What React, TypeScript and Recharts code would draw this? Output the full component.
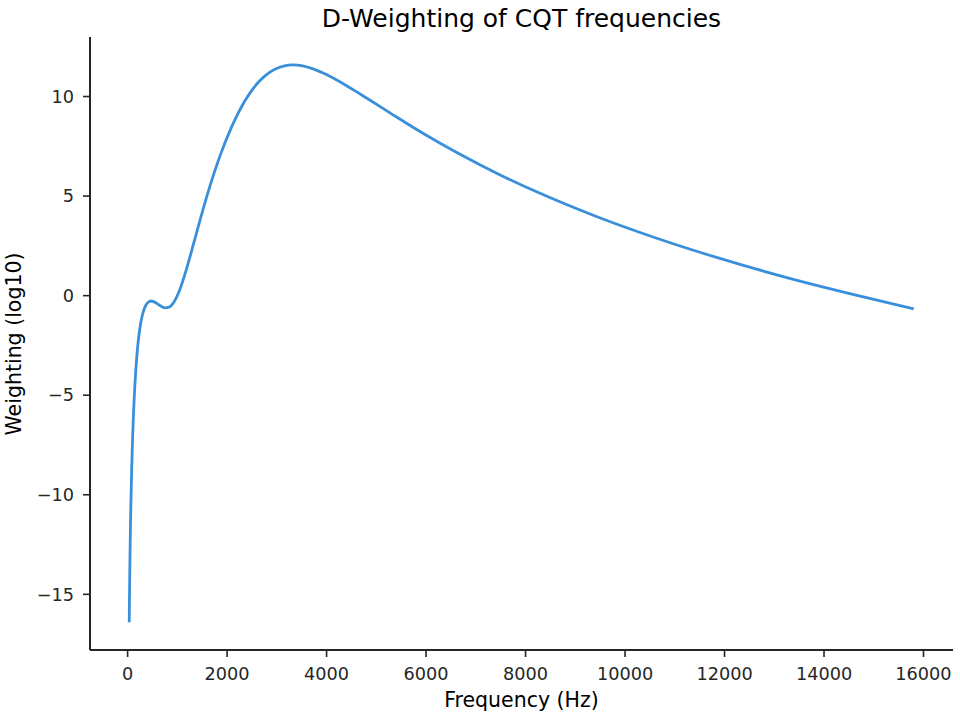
import React from 'react';
import { LineChart, Line, XAxis, YAxis } from 'recharts';

// CQT centre frequencies (Hz), whole-tone steps from C1
const freqs = [
  32.70, 36.71, 41.20, 46.25, 51.91, 58.27, 65.41, 73.42, 82.41, 92.50,
  103.83, 116.54, 130.81, 146.83, 164.81, 185.00, 207.65, 233.08, 261.63, 293.66,
  329.63, 369.99, 415.30, 466.16, 523.25, 587.33, 659.26, 739.99, 830.61, 932.33,
  1046.50, 1174.66, 1318.51, 1479.98, 1661.22, 1864.66, 2093.00, 2349.32, 2637.02, 2793.83,
  2959.96, 3135.96, 3322.44, 3520.00, 3729.31, 3951.07, 4186.01, 4698.64, 5274.04, 5919.91,
  6644.88, 7458.62, 8372.02, 9397.27, 10548.08, 11839.82, 13289.75, 14917.24, 15804.27,
];

// D-weighting
const weights = [
  -16.40, -15.41, -14.43, -13.45, -12.48, -11.52, -10.57, -9.63, -8.70, -7.80,
  -6.92, -6.07, -5.25, -4.47, -3.74, -3.06, -2.44, -1.89, -1.41, -1.01,
  -0.70, -0.47, -0.33, -0.27, -0.30, -0.39, -0.51, -0.61, -0.58, -0.32,
  0.28, 1.26, 2.54, 4.01, 5.55, 7.07, 8.49, 9.75, 10.74, 11.10,
  11.37, 11.53, 11.59, 11.54, 11.39, 11.16, 10.86, 10.09, 9.18, 8.18,
  7.15, 6.10, 5.05, 4.00, 2.96, 1.92, 0.88, -0.14, -0.66,
];

const xTicks = [0, 2000, 4000, 6000, 8000, 10000, 12000, 14000, 16000];
const yTicks = [-15, -10, -5, 0, 5, 10];

const data = freqs.map((f, i) => ({ freq: f, weight: weights[i] }));

const INK = '#262626';
const FONT = 'DejaVu Sans';

const fmt = (v: number) => (v < 0 ? '\u2212' + Math.abs(v) : String(v));

export default function App() {
  return (
    <div style={{ position: 'absolute', left: 0, top: 0, width: 960, height: 720, background: '#ffffff' }}>
      <LineChart width={960} height={720} data={data} margin={{ top: 37, right: 7, bottom: 0, left: 0 }}>
        <XAxis
          dataKey="freq"
          type="number"
          domain={[-755.9, 16592.9]}
          allowDataOverflow
          ticks={xTicks}
          height={70}
          tickSize={7}
          tickMargin={10}
          axisLine={{ stroke: INK, strokeWidth: 2 }}
          tickLine={{ stroke: INK, strokeWidth: 1.6 }}
          tick={{ fill: INK, fontSize: 17.7, fontFamily: FONT }}
          tickFormatter={fmt}
        />
        <YAxis
          type="number"
          domain={[-17.796, 12.989]}
          allowDataOverflow
          ticks={yTicks}
          width={90}
          tickSize={7}
          tickMargin={9}
          axisLine={{ stroke: INK, strokeWidth: 2 }}
          tickLine={{ stroke: INK, strokeWidth: 1.6 }}
          tick={{ fill: INK, fontSize: 17.7, fontFamily: FONT }}
          tickFormatter={fmt}
        />
        <Line
          type="monotone"
          dataKey="weight"
          stroke="#3a8fdb"
          strokeWidth={2.8}
          dot={false}
          activeDot={false}
          isAnimationActive={false}
        />
      </LineChart>
      <svg
        width={960}
        height={720}
        style={{ position: 'absolute', left: 0, top: 0, pointerEvents: 'none' }}
      >
        <text x={521.5} y={26.7} textAnchor="middle" fontFamily={FONT} fontSize={25} fill="#000000">
          D-Weighting of CQT frequencies
        </text>
        <text x={521.5} y={707.3} textAnchor="middle" fontFamily={FONT} fontSize={20.5} fill="#000000">
          Frequency (Hz)
        </text>
        <text
          x={0}
          y={0}
          transform="translate(21,344) rotate(-90)"
          textAnchor="middle"
          fontFamily={FONT}
          fontSize={20.5}
          fill="#000000"
        >
          Weighting (log10)
        </text>
      </svg>
    </div>
  );
}
